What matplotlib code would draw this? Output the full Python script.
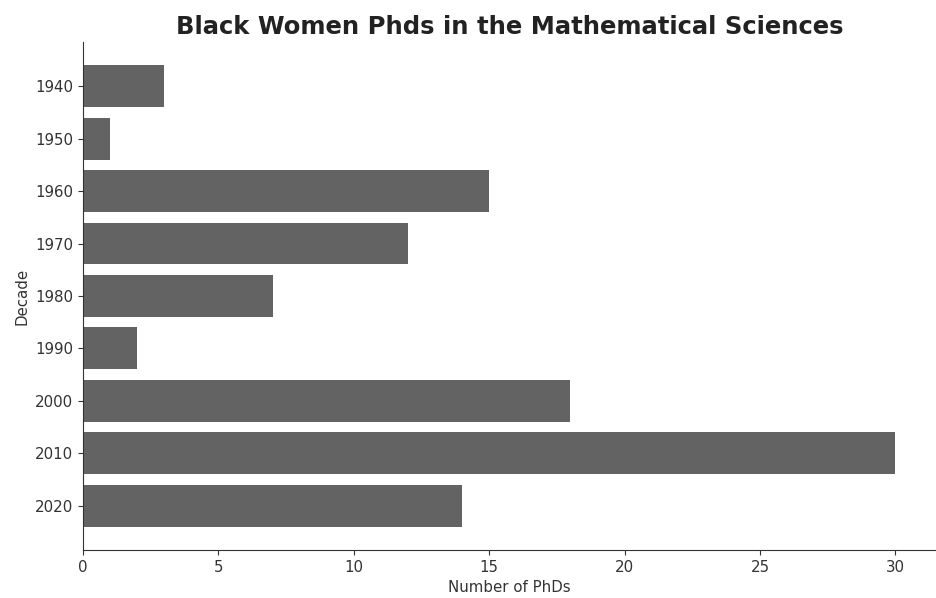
import matplotlib
matplotlib.use('Agg')
import matplotlib.pyplot as plt

# data
decades = ['1940', '1950', '1960', '1970', '1980', '1990', '2000', '2010', '2020']
phds = [3, 1, 15, 12, 7, 2, 18, 30, 14]

fig = plt.figure(figsize=(9.36, 5.98), dpi=100)
ax = fig.add_axes([0.0887, 0.0803, 0.9113, 0.8495])

ax.barh(decades, phds, height=0.8, color='#636363')
ax.invert_yaxis()

ax.spines['top'].set_visible(False)
ax.spines['right'].set_visible(False)
ax.spines['left'].set_color('#333333')
ax.spines['bottom'].set_color('#333333')
ax.tick_params(labelsize=10.8, colors='#333333')

ax.set_xlabel('Number of PhDs', fontsize=10.8, color='#333333')
ax.set_ylabel('Decade', fontsize=10.8, color='#333333')
ax.set_title('Black Women Phds in the Mathematical Sciences',
             fontsize=17.5, fontweight='bold', color='#222222', pad=6)

fig.savefig('out.png', dpi=100, facecolor='white')
